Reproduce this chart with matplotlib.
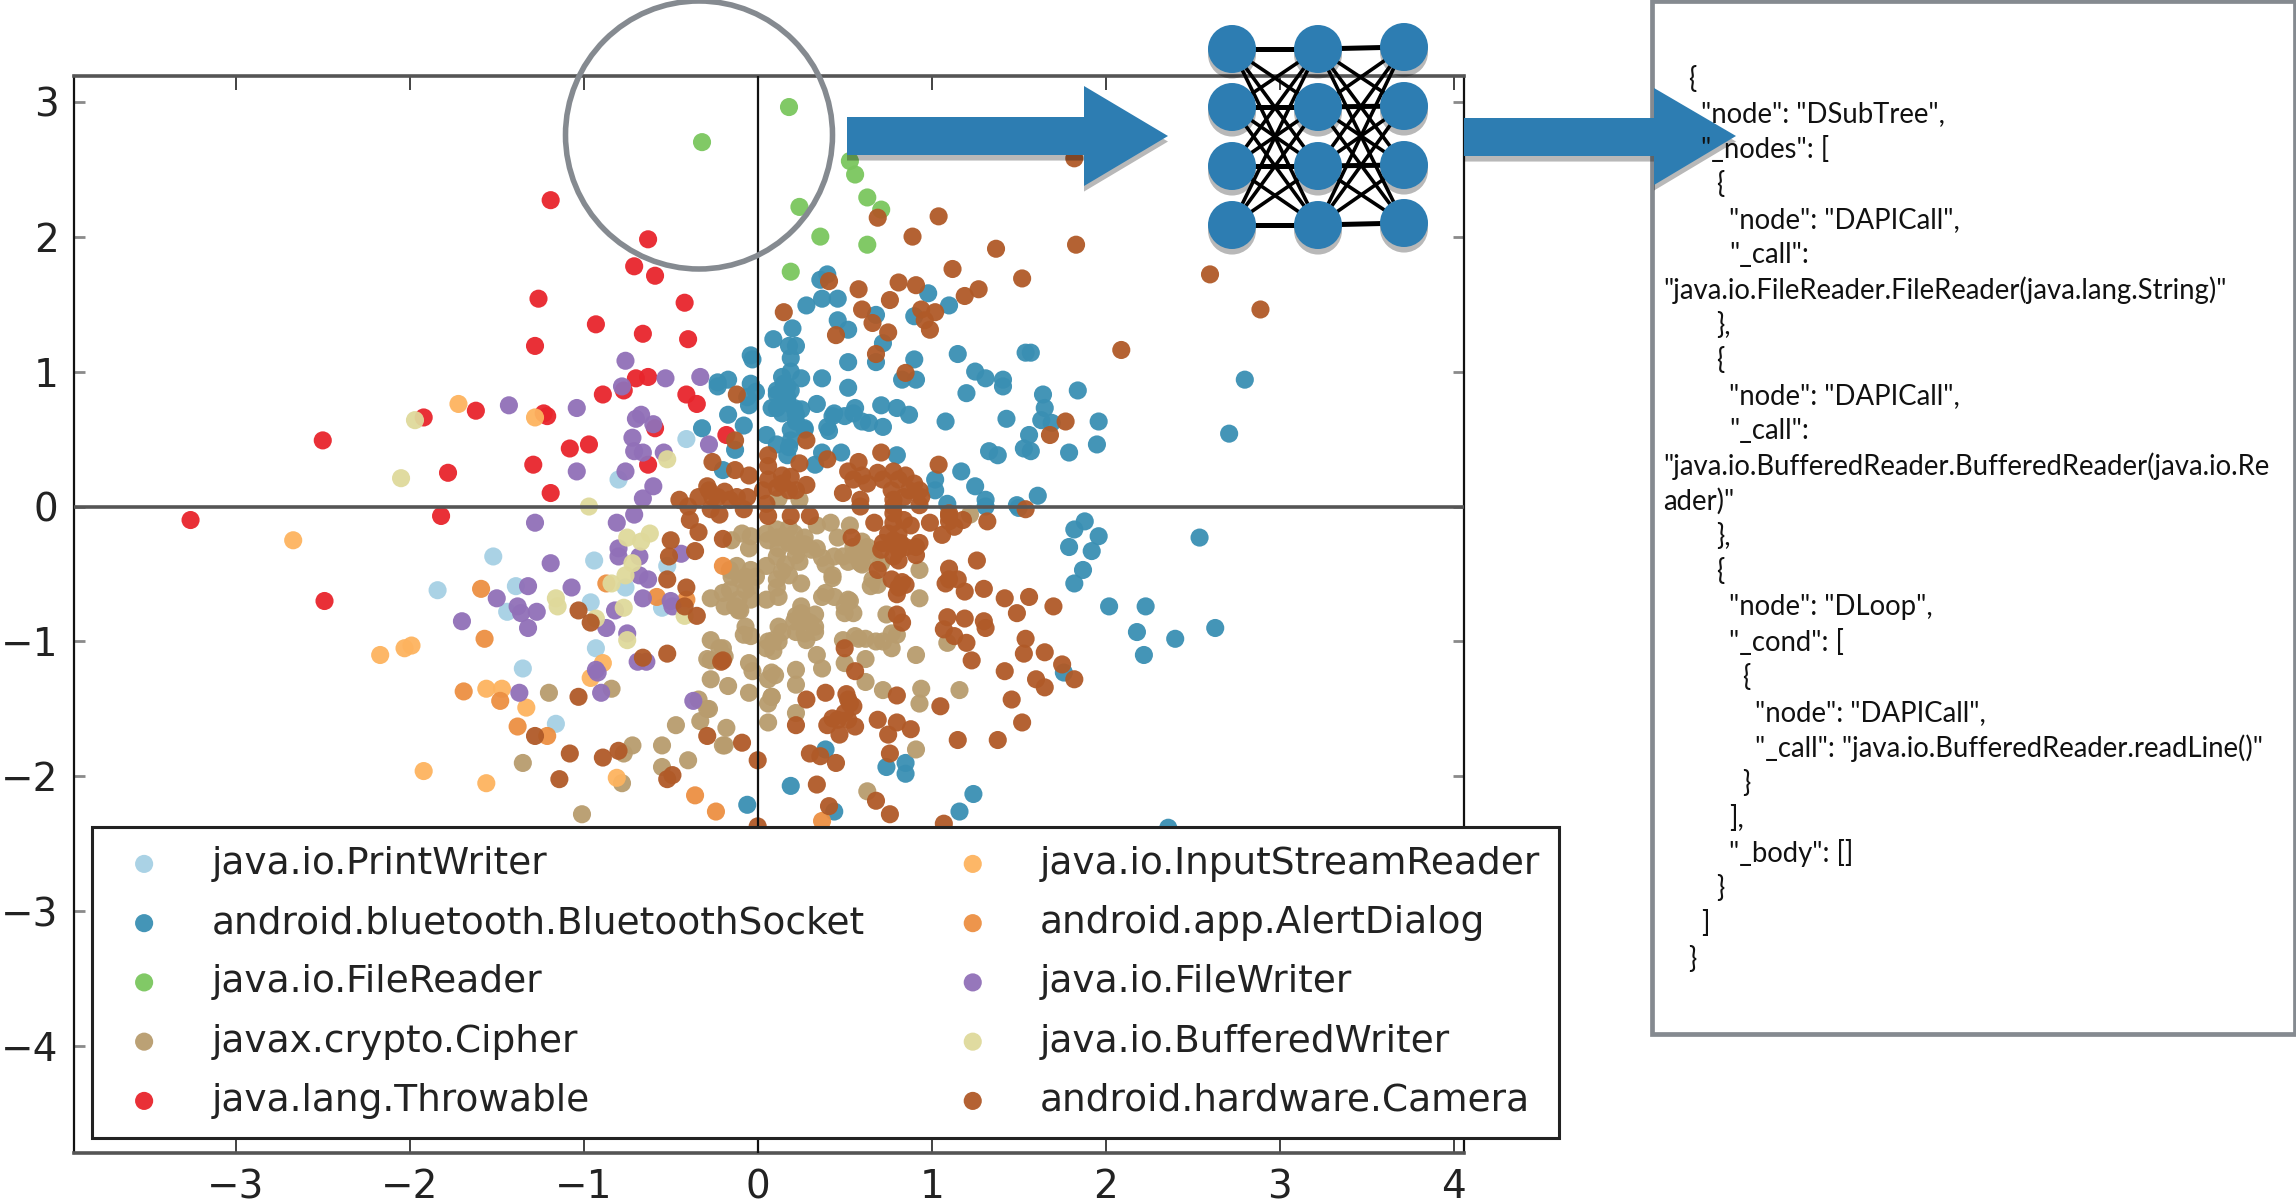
import matplotlib
matplotlib.use("Agg")
import matplotlib.pyplot as plt
from matplotlib.patches import Ellipse, Polygon, Rectangle
import matplotlib.patheffects as pe

W, H = 2296, 1204
DPI = 100

labels = ["java.io.PrintWriter", "android.bluetooth.BluetoothSocket", "java.io.FileReader",
          "javax.crypto.Cipher", "java.lang.Throwable", "java.io.InputStreamReader",
          "android.app.AlertDialog", "java.io.FileWriter", "java.io.BufferedWriter",
          "android.hardware.Camera"]
colors = ["#a6d0e4", "#3a8fb3", "#7ac65e", "#b89c6e", "#e8252c", "#fdb35f",
          "#ec8f42", "#9170b8", "#dfd99b", "#b05a28"]

printwriter = [(-0.41,0.50),(-0.80,0.20),(-1.52,-0.37),(-0.94,-0.40),(-0.52,-0.44),(-1.39,-0.59),(-1.84,-0.62),
    (-0.76,-0.60),(-0.96,-0.71),(-1.44,-0.78),(-0.55,-0.75),(-0.93,-1.05),(-1.35,-1.20),(-1.16,-1.61)]

bluetooth = [(0.36,1.68),(0.40,1.72),(0.28,1.49),(0.37,1.54),(0.46,1.54),(0.98,1.58),(1.10,1.49),(0.68,1.42),
    (0.90,1.41),(0.46,1.38),(0.52,1.31),(0.20,1.32),(0.09,1.24),(0.72,1.21),(0.18,1.19),(0.22,1.19),(0.19,1.10),
    (-0.04,1.12),(-0.03,1.09),(1.15,1.13),(1.54,1.14),(1.57,1.14),(0.52,1.07),(0.68,1.07),(0.90,1.09),(1.25,1.00),
    (1.31,0.95),(1.41,0.94),(1.41,0.89),(0.19,1.00),(0.25,0.95),(0.37,0.95),(0.83,0.94),(0.91,0.94),(-0.23,0.92),
    (-0.17,0.94),(-0.04,0.91),(-0.01,0.85),(-0.06,0.81),(0.52,0.88),(1.20,0.84),(1.64,0.83),(1.84,0.86),(2.80,0.94),
    (0.15,0.91),(0.11,0.83),(0.19,0.86),(0.17,0.77),(0.34,0.76),(0.08,0.73),(0.14,0.69),(0.25,0.72),(0.22,0.63),
    (0.71,0.75),(0.80,0.73),(0.87,0.68),(0.56,0.73),(0.44,0.69),(0.50,0.67),(0.60,0.63),(0.72,0.59),(1.08,0.63),
    (1.43,0.65),(1.65,0.73),(1.63,0.64),(1.69,0.62),(1.96,0.63),(0.41,0.56),(-0.17,0.68),(-0.08,0.60),(-0.32,0.58),
    (0.27,0.58),(1.56,0.53),(1.95,0.46),(2.71,0.54),(0.05,0.53),(0.19,0.49),(0.11,0.46),(0.17,0.38),(-0.13,0.42),
    (1.53,0.43),(1.57,0.41),(1.33,0.41),(1.38,0.38),(1.79,0.40),(0.80,0.38),(0.48,0.40),(0.37,0.40),(0.33,0.31),
    (-0.20,0.27),(1.17,0.26),(1.02,0.20),(1.02,0.12),(1.25,0.15),(1.61,0.08),(1.09,0.02),(1.31,0.05),(1.31,0.0),
    (1.49,0.01),(1.50,-0.01),(1.88,-0.11),(1.82,-0.17),(1.96,-0.22),(1.79,-0.30),(1.92,-0.33),(1.87,-0.47),
    (1.82,-0.57),(2.54,-0.23),(2.02,-0.74),(2.23,-0.74),(2.63,-0.90),(2.18,-0.93),(2.40,-0.98),(2.22,-1.10),
    (1.76,-1.23),(0.39,-1.80),(0.74,-1.93),(0.85,-1.90),(0.85,-1.98),(0.19,-2.07),(1.24,-2.13),(1.16,-2.26),
    (0.44,-2.26),(-0.06,-2.21),(2.36,-2.38),(-0.23,0.89),(-0.05,0.75),
    (0.14,0.96),(0.11,0.86),(0.17,0.81),(0.11,0.73),(0.21,0.73),(0.22,0.68),(0.17,0.89),(0.27,0.57),(0.43,0.67),
    (0.40,0.59),(0.55,0.69),(0.64,0.62),(0.18,0.44),(0.19,0.57)]

filereader = [(-0.32,2.70),(0.18,2.96),(0.53,2.56),(0.56,2.46),(0.63,2.29),(0.71,2.20),(0.24,2.22),(0.36,2.00),
    (0.63,1.94),(0.19,1.74)]

cipher = [(-1.20,-1.38),(-0.84,-1.35),(-1.35,-1.90),(-1.01,-2.28),(-0.78,-2.05),(-0.72,-1.77),(-0.77,-1.83),
    (-0.55,-1.77),(-0.55,-1.93),(-0.40,-1.88),(-0.47,-1.62),(-0.33,-1.59),(-0.18,-1.64),(-0.19,-1.77),(-0.34,-1.43),
    (-0.28,-1.50),(-0.27,-1.28),(-0.17,-1.33),(-0.05,-1.38),(-0.27,-1.14),(-0.27,-0.99),(-0.20,-1.05),(-0.05,-1.16),
    (-0.04,-0.96),(-0.09,-0.20),(-0.15,-0.25),(-0.05,-0.31),(-0.12,-0.44),(-0.27,-0.68),(-0.19,-0.74),(-0.11,-0.77),
    (-0.15,-0.52),(-0.07,-0.52),(-0.16,-0.62),(-0.07,-0.62),(-0.11,-0.69),(-0.10,-0.77),(-0.07,-0.89),(-0.08,-0.95),
    (-0.22,-1.05),(-0.19,-1.11),(-0.29,-1.13),(-0.03,-1.22),(-0.29,-1.50),(-0.20,-1.77),
    (0.06,-0.25),(0.15,-0.22),(0.21,-0.20),(0.27,-0.23),(0.34,-0.14),(0.42,-0.12),(0.53,-0.14),(0.46,-0.23),
    (0.12,-0.31),(0.22,-0.30),(0.31,-0.32),(0.37,-0.38),(0.44,-0.37),(0.52,-0.41),(0.60,-0.26),(0.63,-0.33),
    (0.59,-0.42),(0.71,-0.42),(0.93,-0.47),(0.05,-0.44),(0.14,-0.48),(0.24,-0.41),(0.25,-0.57),(0.11,-0.54),
    (0.43,-0.53),(0.65,-0.59),(0.69,-0.58),(0.93,-0.68),(0.12,-0.67),(0.05,-0.69),(0.37,-0.67),(0.44,-0.67),
    (0.53,-0.70),(0.50,-0.79),(0.55,-0.79),(0.25,-0.74),(0.33,-0.80),(0.22,-0.81),(0.30,-0.86),(0.33,-0.93),
    (0.12,-0.89),(0.22,-0.93),(0.28,-0.99),(0.06,-1.00),(0.12,-1.00),(0.09,-1.07),(0.74,-0.80),(0.80,-0.95),
    (0.58,-0.98),(0.68,-1.00),(0.77,-1.05),(0.49,-0.99),(1.09,-1.01),(0.91,-1.10),(0.34,-1.10),(0.37,-1.20),
    (0.50,-1.16),(0.62,-1.13),(0.22,-1.21),(0.10,-1.25),(0.22,-1.32),(0.62,-1.30),(0.72,-1.36),(0.94,-1.35),
    (0.93,-1.46),(1.16,-1.36),(0.08,-1.41),(0.06,-1.46),(0.06,-1.60),(0.22,-1.53),(0.91,-1.80),(0.63,-2.11),
    (0.24,0.05),(0.12,0.06),(1.22,-0.06),
    (-0.16,-0.47),(-0.10,-0.54),(-0.04,-0.47),(-0.04,-0.59),(-0.20,-0.64),(-0.13,-0.74),(-0.04,-0.69),(-0.01,-0.52),
    (-0.04,-0.22),(0.05,-0.20),(0.11,-0.17),(0.18,-0.16),(0.11,-0.23),(0.18,-0.27),(0.11,-0.37),(0.16,-0.43),
    (0.22,-0.36),(0.18,-0.51),(0.11,-0.60),(0.27,-0.28),(0.34,-0.31),(0.39,-0.43),(0.43,-0.51),(0.49,-0.37),
    (0.55,-0.36),(0.60,-0.43),(0.63,-0.30),(0.55,-0.30),(0.67,-0.37),(0.66,-0.54),(0.39,-0.64),(0.50,-0.74),
    (0.52,-0.69),(0.25,-0.79),(0.28,-0.85),(0.21,-0.85),(0.33,-0.89),(0.27,-0.94),(0.14,-0.93),(0.09,-0.99),
    (0.05,-1.05),(0.56,-0.96),(0.62,-0.98),(0.72,-1.00),(0.77,-0.94),(0.08,-1.23),(0.06,-1.28),(0.08,-1.41)]

throwable = [(-1.19,2.27),(-0.63,1.98),(-0.71,1.78),(-0.59,1.71),(-1.26,1.54),(-0.42,1.51),(-0.93,1.35),(-0.66,1.28),
    (-1.28,1.19),(-0.40,1.24),(-0.70,0.95),(-0.63,0.96),(-0.89,0.83),(-0.77,0.86),(-0.41,0.83),(-0.35,0.76),
    (-1.92,0.66),(-1.62,0.71),(-1.23,0.69),(-1.21,0.67),(-2.50,0.49),(-0.59,0.58),(-0.97,0.46),(-1.08,0.43),
    (-1.29,0.31),(-1.78,0.25),(-0.63,0.31),(-1.19,0.10),(-0.18,0.53),(-3.26,-0.10),(-1.82,-0.07),(-2.49,-0.70)]

inputstream = [(-1.72,0.76),(-1.28,0.66),(-2.67,-0.25),(-2.17,-1.10),(-2.03,-1.05),(-1.99,-1.03),(-1.56,-1.35),
    (-1.47,-1.35),(-1.33,-1.49),(-0.89,-1.16),(-0.96,-1.27),(-1.92,-1.96),(-1.56,-2.05),(-0.81,-2.01)]

alertdialog = [(-0.20,-0.44),(-0.87,-0.57),(-1.59,-0.61),(-0.58,-0.67),(-0.41,-0.69),(-1.57,-0.98),(-1.69,-1.37),
    (-1.48,-1.44),(-1.38,-1.63),(-1.21,-1.70),(-0.36,-2.14),(-0.24,-2.26),(0.37,-2.33)]

filewriter = [(-0.76,1.08),(-0.78,0.89),(-0.53,0.95),(-0.33,0.96),(-1.43,0.75),(-1.04,0.73),(-0.70,0.65),(-0.67,0.68),
    (-0.60,0.61),(-0.72,0.51),(-0.28,0.46),(-0.71,0.41),(-0.66,0.40),(-0.54,0.40),(-1.04,0.26),(-0.76,0.26),
    (-0.60,0.15),(-0.66,0.06),(-1.28,-0.12),(-0.71,-0.06),(-0.81,-0.12),(-0.80,-0.31),(-0.80,-0.37),(-0.68,-0.37),
    (-0.44,-0.35),(-1.19,-0.42),(-0.68,-0.51),(-0.63,-0.54),(-1.32,-0.59),(-1.07,-0.60),(-1.50,-0.68),(-1.38,-0.74),
    (-1.36,-0.79),(-1.27,-0.78),(-1.32,-0.90),(-1.70,-0.85),(-0.66,-0.68),(-0.50,-0.70),(-0.49,-0.74),(-0.82,-0.77),
    (-0.87,-0.90),(-0.75,-0.94),(-0.69,-1.15),(-0.64,-1.15),(-0.93,-1.21),(-0.92,-1.23),(-1.37,-1.38),(-0.90,-1.38),
    (-0.37,-1.44)]

bufferedwriter = [(-1.97,0.64),(-2.05,0.21),(-0.52,0.35),(-0.97,0.0),(-0.75,-0.23),(-0.67,-0.26),(-0.62,-0.20),
    (-0.72,-0.42),(-0.76,-0.51),(-0.84,-0.57),(-1.16,-0.68),(-1.15,-0.74),(-0.77,-0.75),(-0.93,-0.83),(-0.75,-0.99),
    (-0.42,-0.81)]

camera = [(1.82,2.58),(1.04,2.15),(0.69,2.14),(0.89,2.00),(1.83,1.94),(1.37,1.91),(1.12,1.76),(1.52,1.69),(2.60,1.72),
    (0.41,1.67),(0.81,1.66),(0.91,1.64),(0.58,1.61),(1.27,1.61),(1.19,1.56),(0.76,1.53),(2.89,1.46),(0.60,1.46),
    (0.15,1.44),(0.94,1.46),(1.02,1.44),(0.66,1.36),(0.96,1.38),(0.99,1.31),(0.75,1.29),(0.45,1.27),(2.09,1.16),
    (0.68,1.13),(0.85,0.99),(-0.12,0.83),(1.77,0.63),(1.68,0.53),(-0.13,0.49),(0.28,0.49),(-0.26,0.33),(0.06,0.38),
    (0.24,0.32),(0.40,0.35),(0.71,0.40),(1.04,0.31),(0.58,0.33),(-0.13,0.27),(-0.05,0.23),(0.06,0.30),(0.14,0.23),
    (0.19,0.22),(0.28,0.16),(0.11,0.14),(0.18,0.12),(0.52,0.26),(0.60,0.23),(0.69,0.25),(0.78,0.26),(0.85,0.23),
    (0.90,0.17),(0.77,0.12),(0.49,0.10),(0.59,0.05),(0.94,0.07),(-0.28,0.12),(-0.19,0.11),(-0.06,0.07),(0.05,0.02),
    (0.84,0.07),(-0.45,0.05),(-0.34,0.07),(-0.40,0.0),(-0.39,-0.10),(-0.34,-0.19),(-0.27,-0.02),(-0.20,-0.24),
    (-0.50,-0.25),(-0.51,-0.37),(-0.36,-0.33),(-0.52,-0.54),(-0.41,-0.60),(-0.42,-0.74),(-0.35,-0.81),(-1.03,-0.77),
    (-0.96,-0.86),(-0.66,-1.12),(-0.52,-1.09),(-0.20,-1.14),(-1.03,-1.41),(-1.28,-1.70),(-1.08,-1.83),(-0.89,-1.86),
    (-0.80,-1.81),(-1.14,-2.02),(-0.52,-2.02),(-0.49,-1.99),(-0.29,-1.70),(-0.09,-1.75),
    (0.59,0.0),(0.78,0.0),(0.93,0.01),(1.54,-0.02),(0.30,-0.07),(0.19,-0.07),(0.06,-0.07),(-0.22,-0.06),(-0.08,-0.02),
    (0.67,-0.12),(0.78,-0.12),(0.88,-0.14),(0.99,-0.12),(1.10,-0.07),(1.18,-0.10),(1.13,-0.15),(1.06,-0.21),(1.32,-0.11),
    (0.81,-0.20),(0.54,-0.23),(0.72,-0.27),(0.82,-0.27),(0.93,-0.27),(0.71,-0.32),(0.91,-0.36),(0.81,-0.40),(1.26,-0.40),
    (0.69,-0.47),(1.10,-0.46),(0.77,-0.54),(0.85,-0.58),(0.80,-0.65),(1.15,-0.54),(1.08,-0.57),(1.19,-0.63),(1.30,-0.61),
    (1.42,-0.68),(1.56,-0.67),(1.70,-0.74),(1.49,-0.79),(0.80,-0.80),(0.83,-0.86),(1.09,-0.82),(1.19,-0.83),(1.30,-0.85),
    (1.31,-0.90),(1.07,-0.91),(1.13,-0.96),(1.20,-1.01),(1.54,-0.98),(0.50,-1.05),(1.53,-1.09),(1.65,-1.08),(1.23,-1.14),
    (1.75,-1.17),(-0.21,-1.15),(0.56,-1.22),(1.42,-1.22),(1.60,-1.28),(1.65,-1.34),(1.82,-1.28),(0.39,-1.38),(0.28,-1.43),
    (0.51,-1.39),(0.80,-1.40),(1.46,-1.43),(1.05,-1.48),(0.55,-1.48),(0.50,-1.53),(1.52,-1.60),(0.69,-1.58),(0.80,-1.60),
    (0.88,-1.65),(0.43,-1.57),(0.40,-1.62),(0.56,-1.63),(0.22,-1.62),(0.47,-1.69),(0.75,-1.69),(1.15,-1.73),(1.38,-1.73),
    (0.30,-1.83),(0.36,-1.85),(0.45,-1.90),(0.76,-1.83),(0.0,-1.88),(0.34,-2.06),(0.68,-2.18),(0.41,-2.22),(0.76,-2.28),
    (1.07,-2.35),(0.0,-2.37),
    (0.55,0.20),(0.63,0.17),(0.72,0.20),(0.81,0.20),(0.87,0.12),(0.93,0.12),(0.78,0.05),(0.06,0.20),(0.14,0.17),(0.22,0.12),
    (-0.26,0.07),(-0.16,0.05),(0.03,0.12),(-0.29,0.15),(-0.23,0.07),(-0.12,0.07),(0.78,-0.05),(0.84,-0.10),(0.75,-0.20),
    (0.78,-0.25),(0.85,-0.30),(0.81,-0.32),(0.91,-0.30),(0.78,-0.37),(0.81,-0.60),(0.83,-0.56),(1.10,-0.54),(1.10,-0.05),
    (1.10,-0.11),(0.52,-1.43),(0.53,-1.46),(0.46,-1.58),(0.52,-1.58)]

series = [printwriter, bluetooth, filereader, cipher, throwable, inputstream, alertdialog,
          filewriter, bufferedwriter, camera]

xticks = [-3, -2, -1, 0, 1, 2, 3, 4]
yticks = [-4, -3, -2, -1, 0, 1, 2, 3]

json_lines = [
    (25, "{"), (38, '"node": "DSubTree",'), (38, '"_nodes": ['), (53, "{"), (66, '"node": "DAPICall",'),
    (66, '"_call":'), (0, '"java.io.FileReader.FileReader(java.lang.String)"'), (53, "},"), (53, "{"),
    (66, '"node": "DAPICall",'), (66, '"_call":'), (0, '"java.io.BufferedReader.BufferedReader(java.io.Re'),
    (0, 'ader)"'), (53, "},"), (53, "{"), (66, '"node": "DLoop",'), (66, '"_cond": ['), (79, "{"),
    (92, '"node": "DAPICall",'), (92, '"_call": "java.io.BufferedReader.readLine()"'), (79, "}"), (66, "],"),
    (66, '"_body": []'), (53, "}"), (38, "]"), (25, "}")]

fig = plt.figure(figsize=(W / DPI, H / DPI), dpi=DPI, facecolor="white")
L, R, T, B = 74, 1464, 76, 1153
ax = fig.add_axes([L / W, 1 - B / H, (R - L) / W, (B - T) / H])

for pts, c, lab in zip(series, colors, labels):
    ax.scatter([p[0] for p in pts], [p[1] for p in pts], s=170, c=c, edgecolors="none",
               alpha=0.95, label=lab, zorder=3)

ax.set_xlim(-3.93, 4.06)
ax.set_ylim(-4.79, 3.19)
ax.set_xticks(xticks)
ax.set_yticks(yticks)
ax.set_xticklabels([str(t).replace("-", "\u2212") for t in xticks])
ax.set_yticklabels([str(t).replace("-", "\u2212") for t in yticks])
ax.tick_params(axis="x", direction="in", top=True, length=10, width=1.2, color="#222222",
               labelsize=28, pad=11, labelcolor="#222222")
ax.tick_params(axis="y", direction="in", right=True, length=8, width=2, color="#8a8a8a",
               labelsize=28, pad=11, labelcolor="#222222")
ax.axhline(0, color="#555555", lw=2.6, zorder=4)
ax.axvline(0, color="#111111", lw=1.6, zorder=4)
for s in ("top", "bottom"):
    ax.spines[s].set_linewidth(2.6)
    ax.spines[s].set_color("#555555")
for s in ("left", "right"):
    ax.spines[s].set_linewidth(1.6)
    ax.spines[s].set_color("#111111")

leg = ax.legend(ncol=2, loc="upper left", bbox_to_anchor=(92 / W, 1 - 827 / H),
                bbox_transform=fig.transFigure, borderaxespad=0, fontsize=27, scatterpoints=1,
                borderpad=0.5, handlelength=1.78, handletextpad=0.90, columnspacing=2.0,
                labelspacing=0.62, fancybox=False, framealpha=1, edgecolor="#222222")
leg.get_frame().set_linewidth(2.2)
leg.set_zorder(10)
for t in leg.get_texts():
    t.set_color("#222222")

ov = fig.add_axes([0, 0, 1, 1], zorder=5)
ov.set_xlim(0, W)
ov.set_ylim(H, 0)
ov.axis("off")
ov.patch.set_alpha(0)

ov.add_patch(Ellipse((699, 135), 267, 268, fill=False, ec="#858a90", lw=4))

shadow = [pe.SimplePatchShadow(offset=(0, -4), alpha=0.28, shadow_rgbFace="k"), pe.Normal()]
BLUE = "#2d7db2"
arrow1 = Polygon([(847, 117), (1084, 117), (1084, 86), (1168, 136), (1084, 186), (1084, 155), (847, 155)],
                 closed=True, fc=BLUE, ec="none", path_effects=shadow, zorder=2)
ov.add_patch(arrow1)

node_x = [1232, 1318, 1404]
node_y = [[49, 107, 166, 225], [49, 107, 166, 225], [47, 106, 165, 223]]
for c in range(2):
    for a, ya in enumerate(node_y[c]):
        for b, yb in enumerate(node_y[c + 1]):
            ov.plot([node_x[c], node_x[c + 1]], [ya, yb], color="black",
                    lw=3.6 if a == b else 2.6, solid_capstyle="butt", zorder=3)
for c in range(3):
    for y in node_y[c]:
        ov.add_patch(Ellipse((node_x[c], y), 48, 48, fc=BLUE, ec="none", path_effects=shadow, zorder=4))

ov.add_patch(Rectangle((1652, 1), 643, 1033, fc="white", ec="#858a90", lw=3.4, zorder=5))
arrow2 = Polygon([(1464, 118), (1654, 118), (1654, 88), (1736, 136), (1654, 185), (1654, 156), (1464, 156)],
                 closed=True, fc=BLUE, ec="none", path_effects=shadow, zorder=6)
ov.add_patch(arrow2)

x0, y0, pitch = 1663, 79, 35.2
for i, (ind, s) in enumerate(json_lines):
    ov.text(x0 + ind, y0 + i * pitch, s, family="Lato", fontsize=19.8, color="#111111",
            ha="left", va="center", zorder=7)

fig.savefig("out.png", dpi=DPI, facecolor="white")
